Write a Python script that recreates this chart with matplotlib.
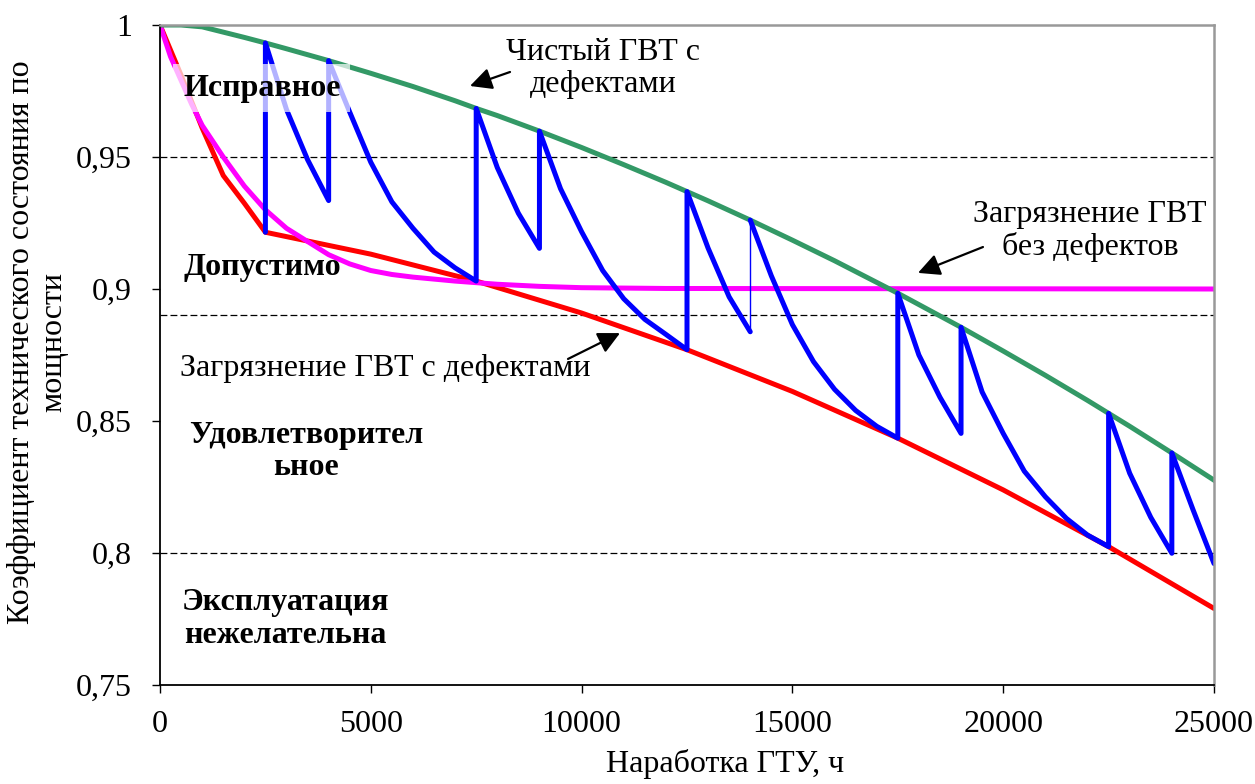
import matplotlib
matplotlib.use("Agg")
import matplotlib.pyplot as plt

plt.rcParams['font.family'] = ['Liberation Serif', 'DejaVu Serif']

# --- data ---
red_x = [0, 500, 1000, 1500, 2000, 2500, 5000, 7500, 10000, 12500, 15000, 17500, 20000, 22500, 25000]
red_y = [1.0, 0.981, 0.961, 0.943, 0.9325, 0.9215, 0.9132, 0.9030, 0.8909, 0.877, 0.8612, 0.8435,
         0.8239, 0.8024, 0.779]

green_x = [0, 500, 1000, 2000, 2500, 3000, 4000, 5000, 6000, 7000, 7500, 8000, 9000, 10000, 11000,
           12000, 12500, 13000, 14000, 15000, 16000, 17000, 17500, 18000, 19000, 20000, 21000,
           22000, 22500, 23000, 24000, 25000]
green_y = [1.0, 1.0, 0.9993, 0.9953, 0.9932, 0.991, 0.9865, 0.9817, 0.9767, 0.9713, 0.9684, 0.9657,
           0.9598, 0.9536, 0.9471, 0.9404, 0.9369, 0.9334, 0.9261, 0.9185, 0.9107, 0.9025, 0.8984,
           0.8941, 0.8855, 0.8765, 0.8673, 0.8578, 0.8529, 0.848, 0.8379, 0.8276]

mag_x = [0, 250, 500, 750, 1000, 1500, 2000, 2500, 3000, 3500, 4000, 4500, 5000, 5500, 6000, 7000,
         8000, 9000, 10000, 12000, 25000]
mag_y = [1.0, 0.988, 0.979, 0.970, 0.962, 0.950, 0.939, 0.930, 0.923, 0.918, 0.913, 0.9095, 0.907,
         0.9055, 0.9045, 0.903, 0.9018, 0.901, 0.9005, 0.9002, 0.9]

# blue saw, part before the thin jump at 14000 and part after it
blue1_x = [2500, 2500, 3000, 3500, 4000, 4000, 4500, 5000, 5500, 6000, 6500, 7000, 7500, 7500,
           8000, 8500, 9000, 9000, 9500, 10000, 10500, 11000, 11500, 12000, 12500, 12500,
           13000, 13500, 14000]
blue1_y = [0.9215, 0.9932, 0.968, 0.949, 0.9335, 0.9865, 0.967, 0.948, 0.933, 0.923, 0.914, 0.908,
           0.903, 0.9684, 0.946, 0.9287, 0.9154, 0.9598, 0.938, 0.9217, 0.907, 0.8963, 0.8885,
           0.8828, 0.877, 0.9369, 0.9155, 0.897, 0.8838]
blue2_x = [14000, 14500, 15000, 15500, 16000, 16500, 17000, 17500, 17500, 18000, 18500, 19000, 19000,
           19500, 20000, 20500, 21000, 21500, 22000, 22500, 22500, 23000, 23500, 24000, 24000,
           24500, 25000]
blue2_y = [0.9261, 0.905, 0.8865, 0.8725, 0.862, 0.854, 0.848, 0.8435, 0.8984, 0.875, 0.859, 0.8453,
           0.8855, 0.861, 0.8453, 0.831, 0.8213, 0.8131, 0.8068, 0.8024, 0.8529, 0.8302, 0.8135,
           0.7999, 0.8379, 0.8165, 0.796]

zone_lines = [0.95, 0.89, 0.8]
x_ticks = [0, 5000, 10000, 15000, 20000, 25000]
y_ticks = [0.75, 0.8, 0.85, 0.9, 0.95, 1.0]

FS = 23

fig = plt.figure(figsize=(12.55, 7.84), dpi=100)
ax = fig.add_axes([160 / 1255, 1 - 685 / 784, 1054 / 1255, 660 / 784])

for yl in zone_lines:
    ax.axhline(yl, color='black', lw=0.9, linestyle=(0, (5.5, 2.5)), zorder=1)

ax.plot(red_x, red_y, color='#ff0000', lw=3.6, solid_capstyle='round')
ax.plot(mag_x, mag_y, color='#ff00ff', lw=3.6)
ax.plot(green_x, green_y, color='#339966', lw=3.6)
ax.plot(blue1_x, blue1_y, color='#0000ff', lw=3.6, solid_joinstyle='round', solid_capstyle='round')
ax.plot([blue1_x[-1], blue2_x[0]], [blue1_y[-1], blue2_y[0]], color='#0000ff', lw=1.0)
ax.plot(blue2_x, blue2_y, color='#0000ff', lw=3.6, solid_joinstyle='round', solid_capstyle='round')

ax.set_xlim(0, 25000)
ax.set_ylim(0.75, 1.0)
ax.set_xticks(x_ticks)
ax.set_xticklabels([str(v) for v in x_ticks])
ax.set_yticks(y_ticks)
ax.set_yticklabels([('%g' % v).replace('.', ',') for v in y_ticks])
ax.tick_params(axis='both', direction='out', labelsize=FS, length=6, width=1)
ax.tick_params(axis='x', pad=12)
ax.tick_params(axis='y', pad=14)

for s in ['left', 'bottom']:
    ax.spines[s].set_color('black')
    ax.spines[s].set_linewidth(1.3)
for s in ['top', 'right']:
    ax.spines[s].set_color('#999999')
    ax.spines[s].set_linewidth(1.8)

# zone names
ax.text(546, 0.9761, 'Исправное', fontsize=FS, fontweight='bold', ha='left', va='center',
        bbox=dict(boxstyle='square,pad=0.3', fc='white', ec='none', alpha=0.7))
ax.text(546, 0.908, 'Допустимо', fontsize=FS, fontweight='bold', ha='left', va='center')
ax.text(3463, 0.8385, 'Удовлетворител\nьное', fontsize=FS, fontweight='bold', ha='center',
        va='center', multialignment='center', linespacing=1.15)
ax.text(2965, 0.775, 'Эксплуатация\nнежелательна', fontsize=FS, fontweight='bold', ha='center',
        va='center', multialignment='center', linespacing=1.15)

arrow = dict(arrowstyle='-|>,head_length=0.6,head_width=0.3', color='black', lw=1.6,
             mutation_scale=22, shrinkA=0, shrinkB=0)
ax.text(10508, 0.9835, 'Чистый ГВТ с\nдефектами', fontsize=FS, ha='center', va='center',
        multialignment='center', linespacing=1.15)
ax.annotate('', xy=(7353, 0.9769), xytext=(8302, 0.9822), arrowprops=arrow)
ax.text(22060, 0.922, 'Загрязнение ГВТ\nбез дефектов', fontsize=FS, ha='center', va='center',
        multialignment='center', linespacing=1.15)
ax.annotate('', xy=(17979, 0.9061), xytext=(19520, 0.9159), arrowprops=arrow)
ax.text(5337, 0.8697, 'Загрязнение ГВТ с дефектами', fontsize=FS, ha='center', va='center')
ax.annotate('', xy=(10911, 0.8833), xytext=(9677, 0.8735), arrowprops=arrow)

fig.text(38 / 1255, 1 - 342 / 784, 'Коэффициент технического состояния по\nмощности', fontsize=FS,
         rotation=90, ha='center', va='center', multialignment='center', linespacing=1.15)
fig.text(725 / 1255, 1 - 749 / 784, 'Наработка ГТУ, ч', fontsize=FS, ha='center', va='top')

fig.savefig('out.png', dpi=100)
